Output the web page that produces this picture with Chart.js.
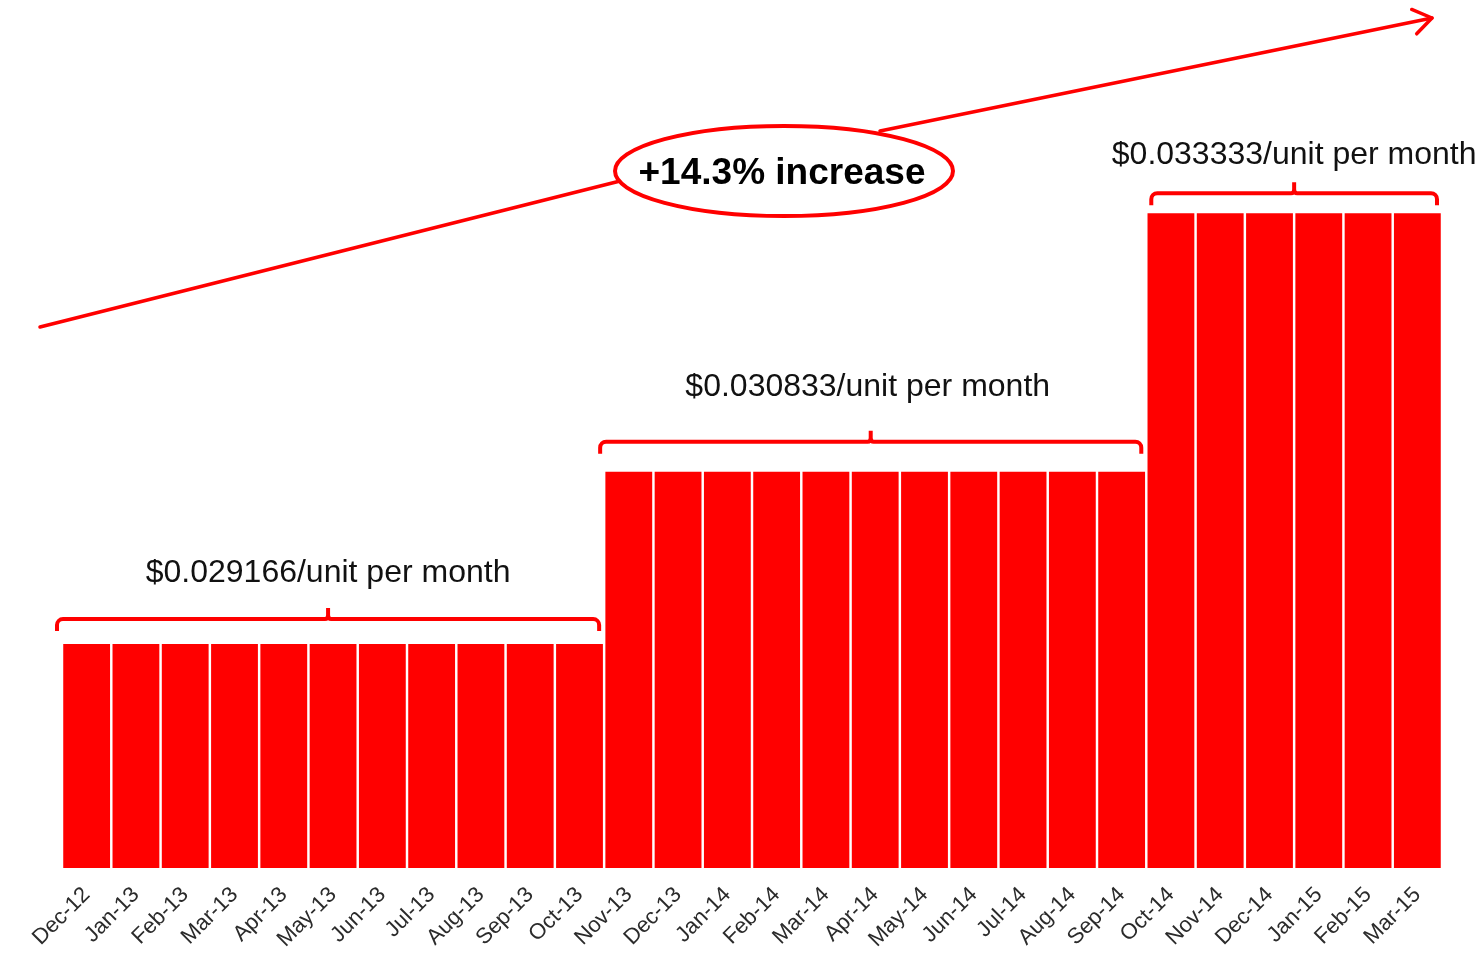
<!DOCTYPE html>
<html>
<head>
<meta charset="utf-8">
<script src="https://cdn.jsdelivr.net/npm/chart.js@4"></script>
<style>
  body { margin: 0; background: #fff; }
  #wrap { width: 1481px; height: 957px; position: relative; }
</style>
</head>
<body>
<div id="wrap"><canvas id="rateChart"></canvas></div>
<script>
var months = ["Dec-12", "Jan-13", "Feb-13", "Mar-13", "Apr-13", "May-13", "Jun-13", "Jul-13", "Aug-13", "Sep-13", "Oct-13",
  "Nov-13", "Dec-13", "Jan-14", "Feb-14", "Mar-14", "Apr-14", "May-14", "Jun-14", "Jul-14", "Aug-14", "Sep-14",
  "Oct-14", "Nov-14", "Dec-14", "Jan-15", "Feb-15", "Mar-15"];

var rates = [0.029166, 0.029166, 0.029166, 0.029166, 0.029166, 0.029166, 0.029166, 0.029166, 0.029166, 0.029166, 0.029166,
  0.030833, 0.030833, 0.030833, 0.030833, 0.030833, 0.030833, 0.030833, 0.030833, 0.030833, 0.030833, 0.030833,
  0.033333, 0.033333, 0.033333, 0.033333, 0.033333, 0.033333];

// price periods: first index, last index, label
var periodStart = [0, 11, 22];
var periodEnd = [10, 21, 27];
var periodLabels = ["$0.029166/unit per month", "$0.030833/unit per month", "$0.033333/unit per month"];

var increaseLabel = "+14.3% increase";

var red = "#ff0000";

var annotations = {
  id: "annotations",
  afterDatasetsDraw: function (chart) {
    var ctx = chart.ctx;
    var x = chart.scales.x;
    var y = chart.scales.y;
    var half = (x.getPixelForValue(1) - x.getPixelForValue(0)) / 2;
    var gapAbove = [25, 30, 20];
    var textAbove = [71, 85, 58];
    var leftShift = [-5, -4, 5];
    var textShift = [0, -3, 0];

    ctx.save();
    ctx.strokeStyle = red;
    ctx.lineWidth = 4;
    ctx.lineJoin = "round";
    ctx.lineCap = "butt";

    for (var i = 0; i < periodStart.length; i++) {
      var x0 = x.getPixelForValue(periodStart[i]) - half + leftShift[i];
      var x1 = x.getPixelForValue(periodEnd[i]) + half - 5;
      var top = y.getPixelForValue(rates[periodStart[i]]);
      var by = top - gapAbove[i];
      var mid = (x0 + x1) / 2;
      var drop = 12, r = 6;
      ctx.beginPath();
      ctx.moveTo(x0, by + drop);
      ctx.arcTo(x0, by, x0 + r, by, r);
      ctx.lineTo(mid - 3, by);
      ctx.quadraticCurveTo(mid, by, mid, by - 4);
      ctx.lineTo(mid, by - 11);
      ctx.moveTo(mid, by - 4);
      ctx.quadraticCurveTo(mid, by, mid + 3, by);
      ctx.arcTo(x1, by, x1, by + r, r);
      ctx.lineTo(x1, by + drop);
      ctx.stroke();

      ctx.fillStyle = "#111";
      ctx.font = "32px 'Liberation Sans', Arial, sans-serif";
      ctx.textAlign = "center";
      ctx.textBaseline = "middle";
      ctx.fillText(periodLabels[i], mid + textShift[i], top - textAbove[i]);
    }

    // trend arrow, two legs meeting behind the callout
    ctx.lineCap = "round";
    ctx.lineWidth = 3.5;
    var ax0 = 40, ay0 = 327;
    var bx = 880, byy = 131;
    var ax1 = 1432, ay1 = 18;
    ctx.beginPath();
    ctx.moveTo(ax0, ay0);
    ctx.lineTo(640, 176);
    ctx.moveTo(bx, byy);
    ctx.lineTo(ax1, ay1);
    ctx.stroke();
    var ang = Math.atan2(ay1 - byy, ax1 - bx);
    ctx.beginPath();
    ctx.moveTo(ax1 - 22 * Math.cos(ang - 0.6), ay1 - 22 * Math.sin(ang - 0.6));
    ctx.lineTo(ax1, ay1);
    ctx.lineTo(ax1 - 22 * Math.cos(ang + 0.6), ay1 - 22 * Math.sin(ang + 0.6));
    ctx.stroke();

    // ellipse callout
    var ex = 784, ey = 171;
    ctx.beginPath();
    ctx.ellipse(ex, ey, 169, 45, 0, 0, Math.PI * 2);
    ctx.fillStyle = "#fff";
    ctx.fill();
    ctx.lineWidth = 4;
    ctx.stroke();
    ctx.fillStyle = "#000";
    ctx.font = "bold 37px 'Liberation Sans', Arial, sans-serif";
    ctx.textAlign = "center";
    ctx.textBaseline = "middle";
    ctx.fillText(increaseLabel, ex - 2, ey + 3);
    ctx.restore();
  }
};

new Chart("rateChart", {
  type: "bar",
  data: {
    labels: months,
    datasets: [{
      data: rates,
      backgroundColor: red,
      borderWidth: 0,
      barPercentage: 0.95,
      categoryPercentage: 1
    }]
  },
  options: {
    responsive: true,
    maintainAspectRatio: false,
    animation: false,
    layout: {
      padding: { left: 62, right: 39, top: 0, bottom: 0 }
    },
    plugins: {
      legend: { display: false },
      tooltip: { enabled: false }
    },
    scales: {
      x: {
        grid: { display: false },
        border: { display: false },
        afterFit: function (s) { s.height = 89; },
        ticks: {
          autoSkip: false,
          minRotation: 45,
          maxRotation: 45,
          padding: 6,
          color: "#2b2b2b",
          font: { family: "'Liberation Sans', Arial, sans-serif", size: 22 }
        }
      },
      y: {
        display: false,
        min: 0.027,
        max: 0.035395
      }
    }
  },
  plugins: [annotations]
});
</script>
</body>
</html>
